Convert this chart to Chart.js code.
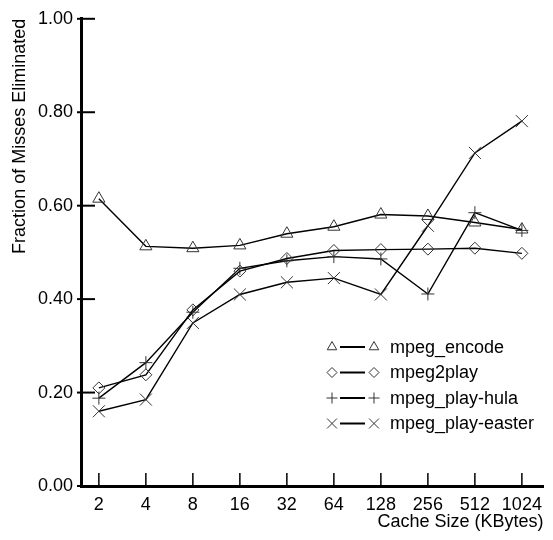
<!DOCTYPE html>
<html><head><meta charset="utf-8">
<script src="https://cdn.jsdelivr.net/npm/chart.js@4/dist/chart.umd.min.js"></script>
<style>html,body{margin:0;padding:0;background:#fff}</style>
</head><body>
<canvas id="c" width="553" height="540"></canvas>
<script>
const cacheSizes = [2, 4, 8, 16, 32, 64, 128, 256, 512, 1024];
const mpegEncode = [0.615, 0.513, 0.509, 0.515, 0.540, 0.555, 0.581, 0.578, 0.564, 0.549];
const mpeg2play = [0.210, 0.238, 0.377, 0.460, 0.487, 0.504, 0.506, 0.507, 0.509, 0.498];
const mpegPlayHula = [0.188, 0.264, 0.372, 0.466, 0.482, 0.491, 0.486, 0.411, 0.585, 0.547];
const mpegPlayEaster = [0.160, 0.185, 0.349, 0.410, 0.436, 0.445, 0.410, 0.557, 0.713, 0.781];
const yTickValues = [0, 0.2, 0.4, 0.6, 0.8, 1.0];
const seriesNames = ['mpeg_encode', 'mpeg2play', 'mpeg_play-hula', 'mpeg_play-easter'];
const xTitle = 'Cache Size (KBytes)';
const yTitle = 'Fraction of Misses Eliminated';

const FONT = '"Liberation Sans", Arial, Helvetica, sans-serif';
const FS = 18;
const styles = [
  {pointStyle: 'triangle', radius: 7, legendRadius: 5.5},
  {pointStyle: 'rectRot', radius: 6, legendRadius: 5},
  {pointStyle: 'cross', radius: 6.5, legendRadius: 5.5},
  {pointStyle: 'crossRot', radius: 8.5, legendRadius: 7}
];
const allSeries = [mpegEncode, mpeg2play, mpegPlayHula, mpegPlayEaster];

const datasets = allSeries.map((vals, i) => ({
  label: seriesNames[i],
  data: vals.map((v, j) => ({x: Math.log2(cacheSizes[j]), y: v})),
  borderColor: '#000',
  borderWidth: 1.4,
  pointStyle: styles[i].pointStyle,
  pointRadius: styles[i].radius,
  pointBorderColor: '#333',
  pointBackgroundColor: 'rgba(0,0,0,0)',
  pointBorderWidth: 1,
  tension: 0,
  fill: false
}));

const tickPlugin = {
  id: 'innerTicks',
  afterDraw(chart) {
    const {ctx, chartArea, scales} = chart;
    ctx.save();
    ctx.strokeStyle = '#000';
    ctx.lineWidth = 2;
    yTickValues.forEach(v => {
      const y = scales.y.getPixelForValue(v);
      ctx.beginPath();
      ctx.moveTo(chartArea.left - 4, y);
      ctx.lineTo(chartArea.left + 14, y);
      ctx.stroke();
    });
    ctx.lineWidth = 1.5;
    cacheSizes.forEach(s => {
      const x = scales.x.getPixelForValue(Math.log2(s));
      ctx.beginPath();
      ctx.moveTo(x, chartArea.bottom - 13);
      ctx.lineTo(x, chartArea.bottom + 2);
      ctx.stroke();
    });
    ctx.restore();
  }
};

const legendPlugin = {
  id: 'symbolLegend',
  afterDraw(chart) {
    const {ctx} = chart;
    const x0 = 332, lineStart = 340, lineEnd = 365, x1 = 374, textX = 390;
    const y0 = 347, dy = 25.5;
    ctx.save();
    ctx.font = FS + 'px ' + FONT;
    ctx.textBaseline = 'middle';
    ctx.textAlign = 'left';
    chart.data.datasets.forEach((ds, i) => {
      const y = y0 + i * dy;
      ctx.strokeStyle = '#333';
      ctx.fillStyle = 'rgba(0,0,0,0)';
      ctx.lineWidth = 1;
      const opt = {pointStyle: styles[i].pointStyle, radius: styles[i].legendRadius, rotation: 0, borderWidth: 1};
      Chart.helpers.drawPoint(ctx, opt, x0, y);
      Chart.helpers.drawPoint(ctx, opt, x1, y);
      ctx.strokeStyle = '#000';
      ctx.lineWidth = 2;
      ctx.beginPath();
      ctx.moveTo(lineStart, y);
      ctx.lineTo(lineEnd, y);
      ctx.stroke();
      ctx.fillStyle = '#000';
      ctx.fillText(ds.label, textX, y + 1);
    });
    ctx.restore();
  }
};

new Chart(document.getElementById('c'), {
  type: 'line',
  data: {datasets},
  options: {
    responsive: false,
    animation: false,
    layout: {padding: {top: 16, right: 5, bottom: 0, left: 0}},
    plugins: {legend: {display: false}, tooltip: {enabled: false}},
    scales: {
      x: {
        type: 'linear',
        min: 0.62,
        max: 10.46,
        afterBuildTicks: (scale) => { scale.ticks = cacheSizes.map(s => ({value: Math.log2(s)})); },
        afterFit: (scale) => { scale.height = 54; },
        grid: {display: false, drawTicks: false},
        border: {display: true, color: '#000', width: 3},
        ticks: {
          autoSkip: false, maxRotation: 0, color: '#000', padding: 8,
          font: {family: FONT, size: FS},
          callback: (v) => String(Math.round(Math.pow(2, v)))
        },
        title: {
          display: true, text: xTitle, align: 'end', color: '#000',
          font: {family: FONT, size: FS}, padding: {top: 0, bottom: 7}
        }
      },
      y: {
        type: 'linear',
        min: 0, max: 1,
        afterBuildTicks: (scale) => { scale.ticks = yTickValues.map(v => ({value: v})); },
        afterFit: (scale) => { scale.width = 81; },
        grid: {display: false, drawTicks: false},
        border: {display: true, color: '#000', width: 3},
        ticks: {
          color: '#000', padding: 8,
          font: {family: FONT, size: FS},
          callback: (v) => Number(v).toFixed(2)
        },
        title: {
          display: true, text: yTitle, align: 'end', color: '#000',
          font: {family: FONT, size: FS}, padding: {top: 9, bottom: 0}
        }
      }
    }
  },
  plugins: [tickPlugin, legendPlugin]
});
</script>
</body></html>
